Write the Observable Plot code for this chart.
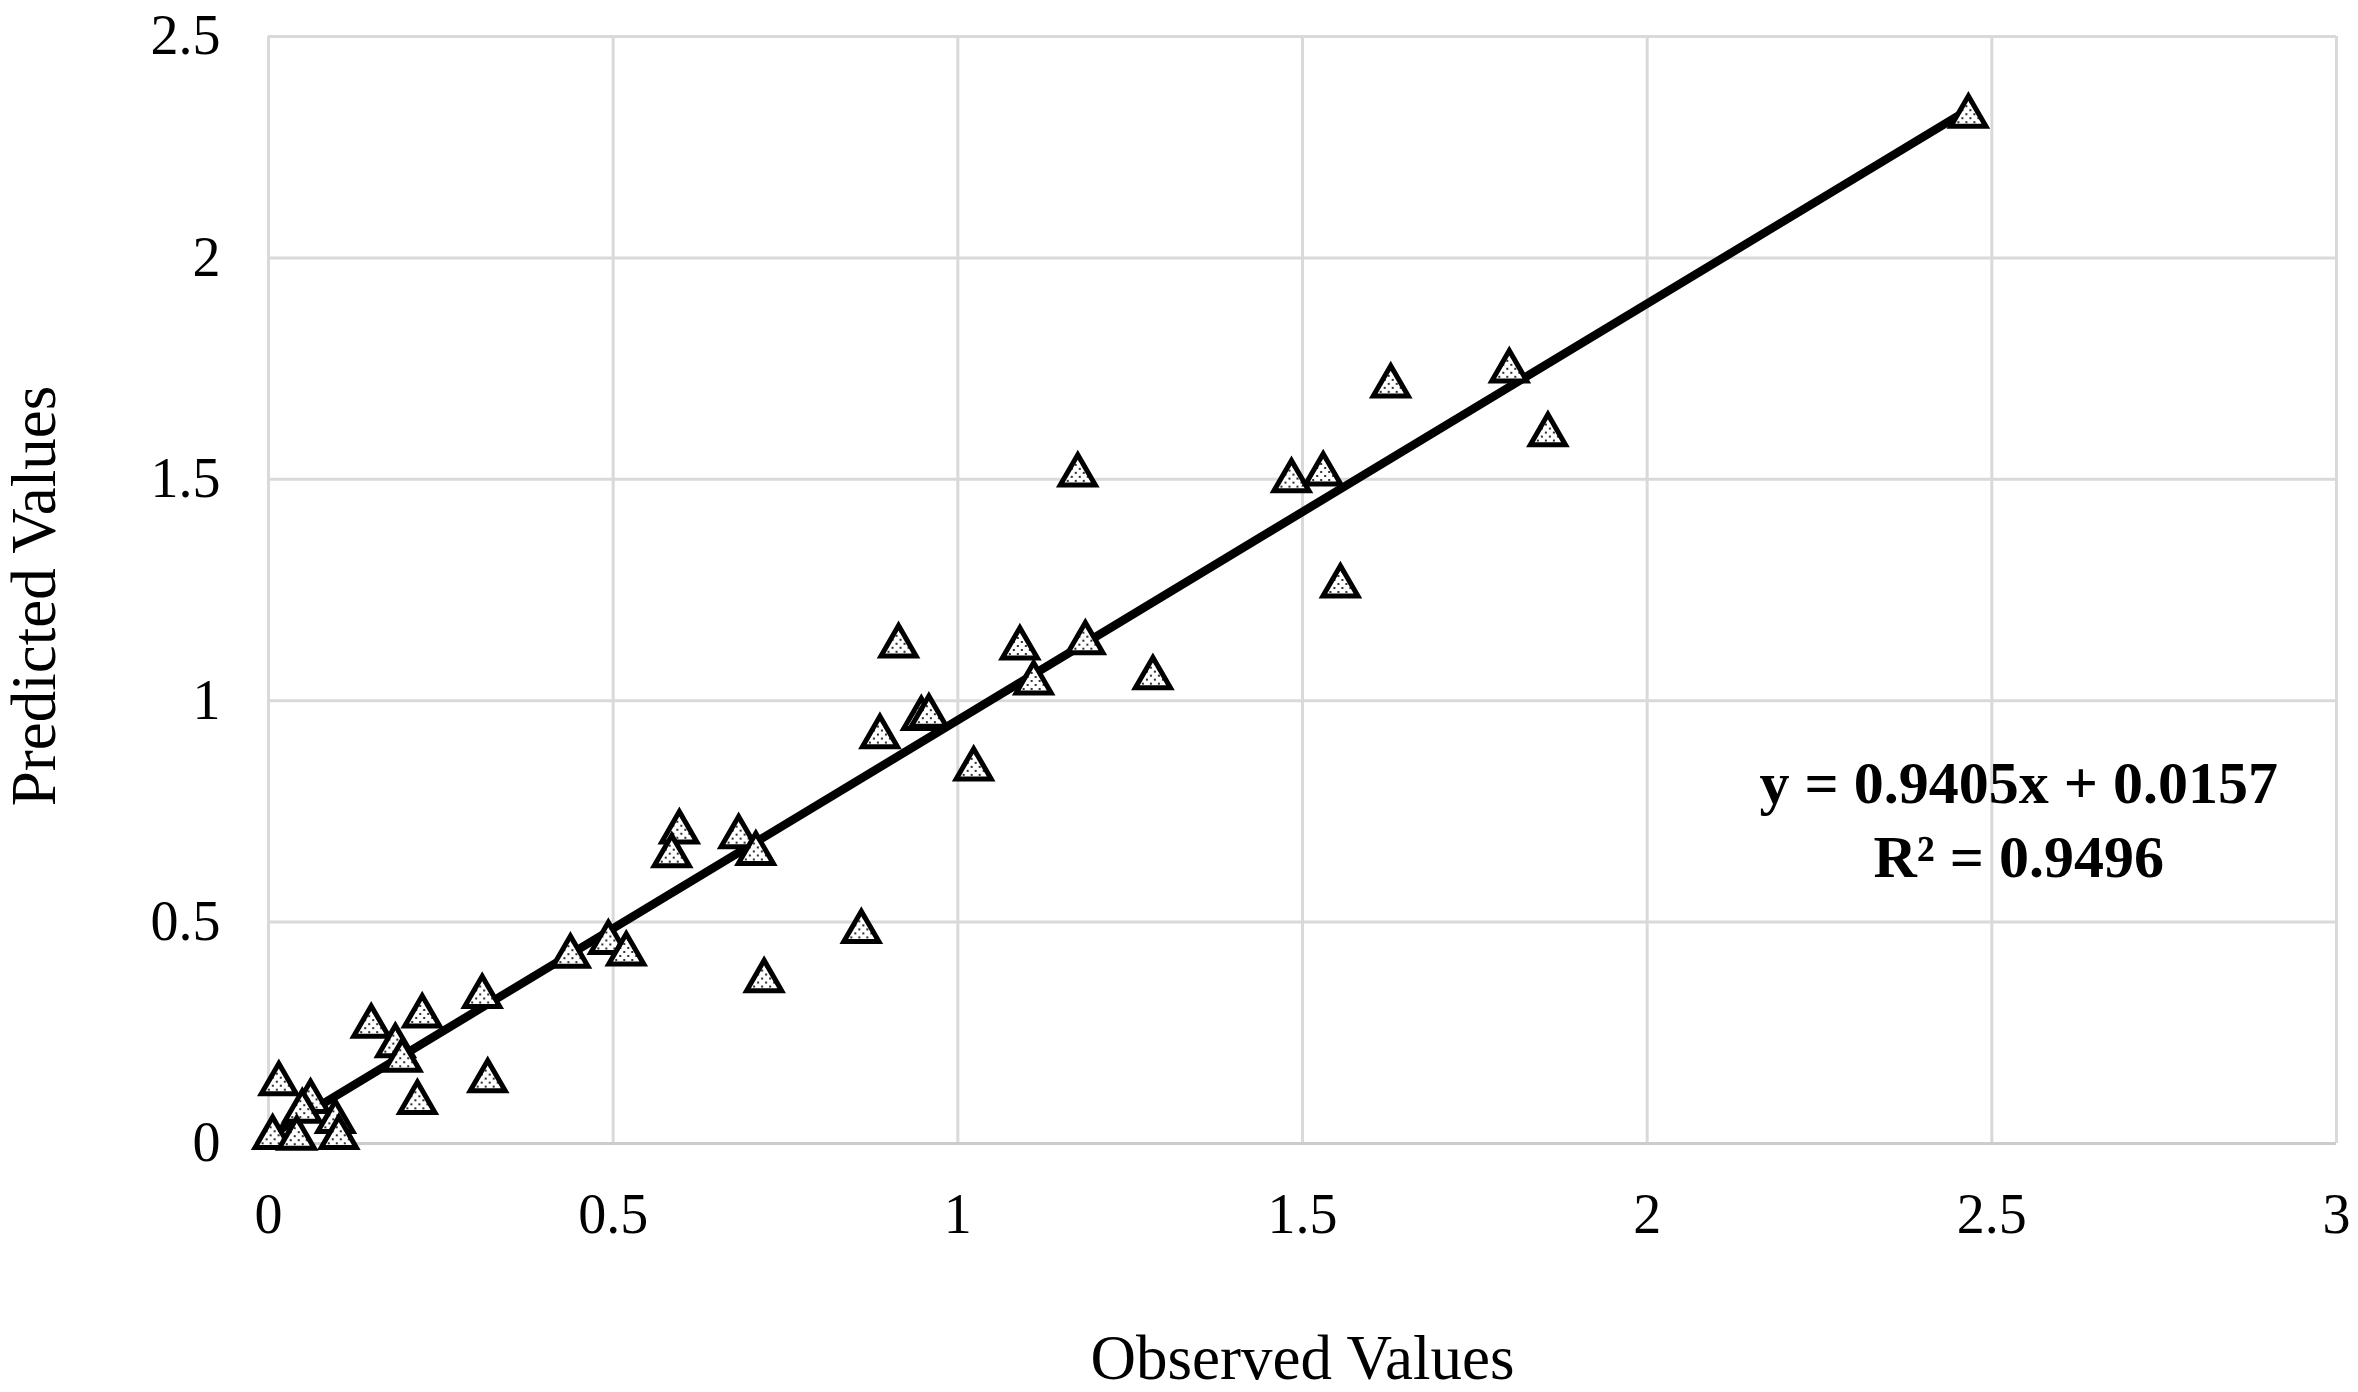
<!DOCTYPE html>
<html>
<head>
<meta charset="utf-8">
<script src="https://cdn.jsdelivr.net/npm/d3@7"></script>
<script src="https://cdn.jsdelivr.net/npm/@observablehq/plot@0.6"></script>
<style>
  html, body { margin: 0; padding: 0; background: white; }
  #chart svg g[aria-label^="x-axis"] text,
  #chart svg g[aria-label^="y-axis"] text { font-size: 56px; }
</style>
</head>
<body>
<div id="chart"></div>
<script>
// Observed vs predicted values
const observed = [
  2.466, 1.800, 1.628, 1.856, 1.174, 1.484, 1.530, 1.555,
  0.914, 1.090, 1.185, 1.110, 1.283, 0.887, 0.947, 0.958, 1.023,
  0.596, 0.585, 0.682, 0.707, 0.860, 0.719,
  0.438, 0.493, 0.519, 0.310, 0.318, 0.223, 0.149, 0.184, 0.194, 0.216,
  0.015, 0.061, 0.049, 0.006, 0.041, 0.097, 0.102
];
const predicted = [
  2.320, 1.745, 1.711, 1.601, 1.510, 1.497, 1.512, 1.259,
  1.124, 1.119, 1.131, 1.040, 1.052, 0.919, 0.960, 0.965, 0.846,
  0.704, 0.650, 0.693, 0.655, 0.479, 0.368,
  0.423, 0.454, 0.428, 0.332, 0.142, 0.288, 0.265, 0.221, 0.188, 0.093,
  0.135, 0.095, 0.073, 0.014, 0.012, 0.050, 0.014
];
const xTicks = [0, 0.5, 1, 1.5, 2, 2.5, 3];
const yTicks = [0, 0.5, 1, 1.5, 2, 2.5];
const slope = 0.9405;
const intercept = 0.0157;
const r2 = 0.9496;
const xTitle = "Observed Values";
const yTitle = "Predicted Values";

const points = observed.map((o, i) => ({obs: o, pred: predicted[i]}));
const trendRange = d3.extent(observed);
const equation = `y = ${slope}x + ${intercept}\nR² = ${r2}`;

const serif = "'Liberation Serif', 'Times New Roman', serif";

const chart = Plot.plot({
  width: 2358,
  height: 1392,
  marginLeft: 268,
  marginRight: 22,
  marginTop: 36,
  marginBottom: 249,
  style: {fontFamily: serif, fontSize: "56px", color: "black", background: "white", overflow: "visible"},
  x: {domain: [0, 3], ticks: xTicks, tickFormat: d => String(d), tickSize: 0, tickPadding: 50, label: null},
  y: {domain: [0, 2.5], ticks: yTicks, tickFormat: d => String(d), tickSize: 0, tickPadding: 48, label: null},
  marks: [
    Plot.ruleX(xTicks, {x: d => d, stroke: "#d9d9d9", strokeWidth: 3}),
    Plot.ruleY(yTicks, {y: d => d, stroke: "#d9d9d9", strokeWidth: 3}),
    Plot.ruleY([0], {y: d => d, stroke: "#cccccc", strokeWidth: 3}),
    Plot.line(trendRange, {x: d => d, y: d => slope * d + intercept, stroke: "black", strokeWidth: 8.5}),
    Plot.dot(points, {x: "obs", y: "pred", symbol: "triangle", r: 13, fill: "url(#dots)", stroke: "black", strokeWidth: 5}),
    Plot.text([xTitle], {text: d => d, frameAnchor: "bottom", dy: 235, fontSize: 63, fontFamily: serif}),
    Plot.text([yTitle], {text: d => d, frameAnchor: "left", textAnchor: "middle", lineAnchor: "middle", rotate: -90, dx: -234, dy: 6, fontSize: 63, fontFamily: serif}),
    Plot.text([equation], {text: d => d, x: () => 2.539, y: () => 0.738, fontSize: 60, fontWeight: "bold", lineHeight: 1.23, fontFamily: serif})
  ]
});

const svg = chart.tagName.toLowerCase() === "svg" ? chart : chart.querySelector("svg");
const ns = "http://www.w3.org/2000/svg";
const defs = document.createElementNS(ns, "defs");
const pattern = document.createElementNS(ns, "pattern");
pattern.setAttribute("id", "dots");
pattern.setAttribute("patternUnits", "userSpaceOnUse");
pattern.setAttribute("width", "8");
pattern.setAttribute("height", "8");
const bg = document.createElementNS(ns, "rect");
bg.setAttribute("width", "8"); bg.setAttribute("height", "8"); bg.setAttribute("fill", "white");
pattern.appendChild(bg);
[[2, 2], [6, 6]].forEach(([cx, cy]) => {
  const c = document.createElementNS(ns, "circle");
  c.setAttribute("cx", cx); c.setAttribute("cy", cy); c.setAttribute("r", "1.1"); c.setAttribute("fill", "black");
  pattern.appendChild(c);
});
defs.appendChild(pattern);
svg.insertBefore(defs, svg.firstChild);

document.getElementById("chart").appendChild(chart);
</script>
</body>
</html>
